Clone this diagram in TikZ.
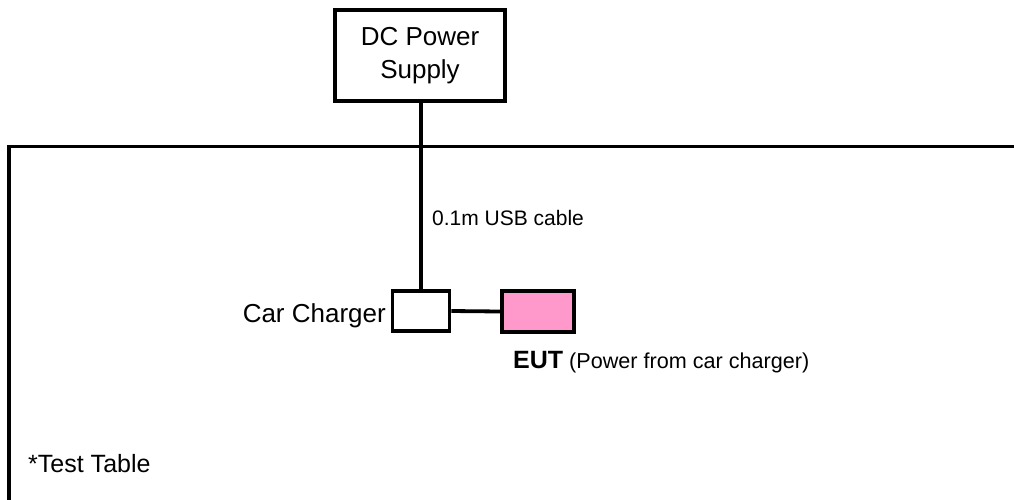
\documentclass[tikz,border=0pt]{standalone}
\usepackage{fontspec}
\setmainfont{Liberation Sans}
\definecolor{eutpink}{HTML}{FF99CC}
\newcommand{\fsz}[1]{\fontsize{#1}{1.27\dimexpr #1pt\relax}\selectfont}
\begin{document}
\begin{tikzpicture}[x=1pt, y=-1pt,
    box/.style={draw=black, line width=3.8pt, inner sep=0pt},
    wire/.style={draw=black, line width=3.8pt},
    lbl/.style={inner sep=0pt, text=black}]
    % 1. Picture frame
    \useasboundingbox (0, 0) rectangle (1014, 499);

    % 2. Boxes
    \node[box, minimum width=170pt, minimum height=91pt, align=center,
          font=\fsz{26}] (dc) at (420, 55.5) {DC Power\\Supply};
    \node[box, minimum width=57pt, minimum height=40pt] (charger) at (421, 311) {};
    \node[box, fill=eutpink, minimum width=72pt, minimum height=41pt] (eut) at (538, 311.5) {};

    % 3. Test table outline
    \coordinate (tl) at (9, 146.5);
    \draw[wire] (9, 505) -- (tl) -- (1020, 146.5);

    % 4. Cables
    \draw[wire] (charger.north) -- (charger.north |- dc.south);
    \draw[wire] (charger.east) -- (eut.west);

    % 5. Labels
    \node[lbl, anchor=base west, font=\fsz{21}] (usb) at (432, 225) {0.1m USB cable};
    \node[lbl, anchor=base east, font=\fsz{26}] (chglbl) at (386, 322) {Car Charger};
    \node[lbl, anchor=base west, font=\fsz{21.6}] (eutlbl) at (513, 368)
        {{\fsz{25}\bfseries EUT} (Power from car charger)};
    \node[lbl, anchor=base west, font=\fsz{25}] (table) at (28, 472) {*Test Table};
\end{tikzpicture}
\end{document}
